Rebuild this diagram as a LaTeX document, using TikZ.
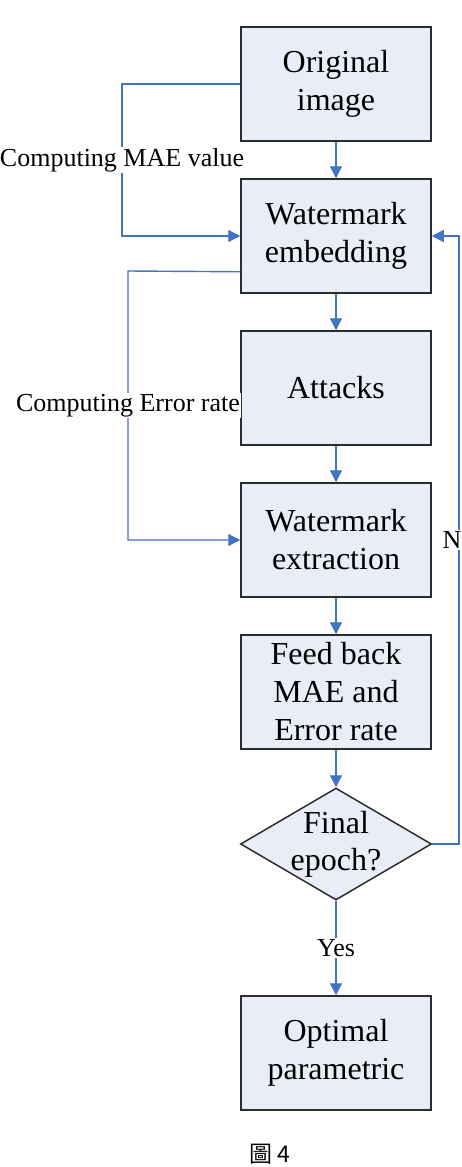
\documentclass[tikz,border=0pt]{standalone}
\usepackage{fontspec}
\setmainfont{Liberation Serif}
\newfontfamily\cjk{Noto Sans CJK TC}
\usetikzlibrary{arrows.meta,shapes.geometric}
\definecolor{flowblue}{RGB}{68,114,196}
\definecolor{boxfill}{RGB}{233,237,248}
\definecolor{boxline}{RGB}{45,45,45}
\tikzset{
  stepbox/.style={draw=boxline, line width=1.5pt, fill=boxfill, minimum width=190pt, minimum height=114pt, inner sep=2pt, align=center, font=\fontsize{32}{38}\selectfont},
  decision/.style={diamond, draw=boxline, line width=1.5pt, fill=boxfill, minimum width=191pt, minimum height=112pt, inner sep=0pt},
  steptext/.style={align=center, inner sep=0pt, font=\fontsize{32}{37}\selectfont},
  flow/.style={draw=flowblue, line width=1.4pt, -{Triangle[width=12pt,length=12pt]}},
  loopnote/.style={fill=white, inner sep=1pt, font=\fontsize{26}{30}\selectfont},
}

\begin{document}
\begin{tikzpicture}[x=1pt,y=-1pt]
			%%%%% START %%%%%
			\useasboundingbox (0,0) rectangle (462,1167);
			
			\node[stepbox] (orig) at (336,84) {Original\\image};
			\node[stepbox] (embed) at (336,236) {Watermark\\embedding};
			\node[stepbox] (attack) at (336,388) {Attacks};
			\node[stepbox] (extr) at (336,540) {Watermark\\extraction};
			\node[stepbox] (feed) at (336,692) {Feed back\\MAE and\\Error rate};
			\node[decision] (dec) at (336,844) {};
			\node[steptext] (dectext) at (dec) {Final\\epoch?};
			\node[stepbox] (opt) at (336,1053) {Optimal\\parametric};
			
			\draw[flow] (orig) -- (embed);
			\draw[flow] (embed) -- (attack);
			\draw[flow] (attack) -- (extr);
			\draw[flow] (extr) -- (feed);
			\draw[flow] (feed) -- (dec);
			\draw[flow] (dec) -- node[loopnote] (yes) {Yes} (opt);
			
			% feedback loops
			\coordinate (maeturn) at (122,84);
			\draw[flow] (orig.west) -- (maeturn) |- node[loopnote, pos=0.25] (maenote) {Computing MAE value} (embed.west);
			
			\coordinate (errstart) at ([yshift=22pt]embed.south west);
			\coordinate (errturn) at (128,271);
			\draw[flow] (errstart) -- (errturn) |- node[loopnote, pos=0.25] (errnote) {Computing Error rate} (extr.west);
			
			\coordinate (noturn) at (459,844);
			\draw[flow] (dec.east) -- (noturn) |- node[loopnote, pos=0.25, xshift=-7pt] (nonote) {N} (embed.east);
			
			\node[font=\cjk\fontsize{23}{27}\selectfont] (caption) at (270,1154) {圖 4};
			%%%%% END %%%%%
\end{tikzpicture}
\end{document}
